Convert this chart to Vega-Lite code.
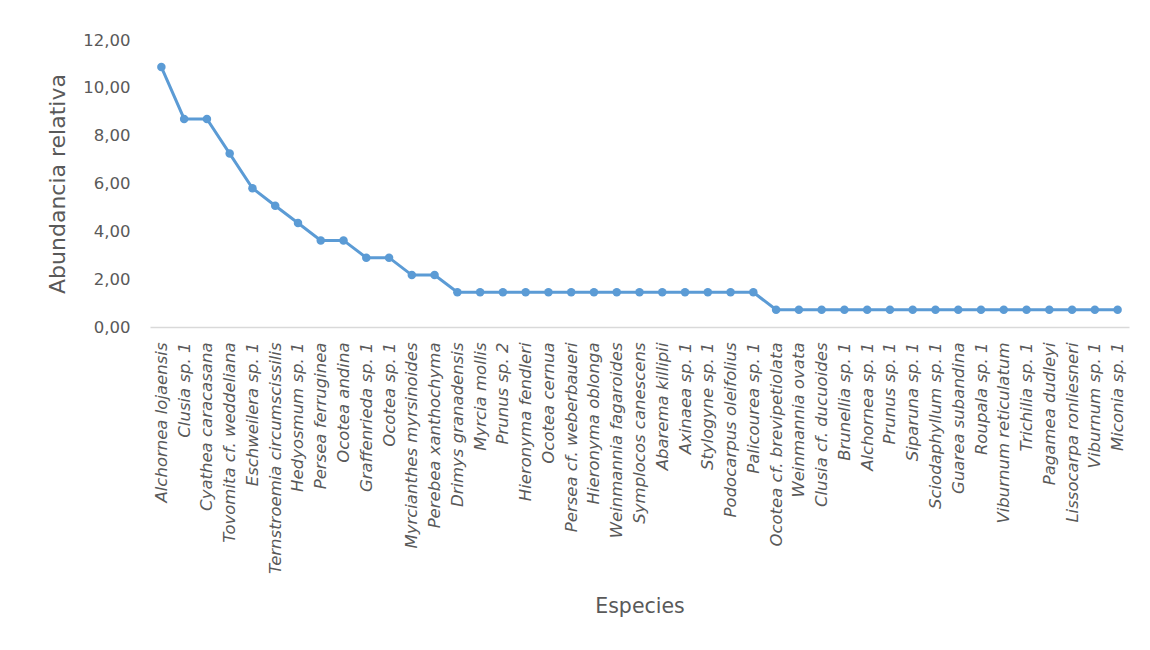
{
  "$schema": "https://vega.github.io/schema/vega-lite/v6.json",
  "autosize": {"type": "none"},
  "padding": {"left": 150, "top": 40, "right": 21, "bottom": 323},
  "width": 979,
  "height": 287,
  "background": "white",
  "data": {"values": [
    {"especie": "Alchornea lojaensis", "abundancia": 10.87},
    {"especie": "Clusia sp. 1", "abundancia": 8.70},
    {"especie": "Cyathea caracasana", "abundancia": 8.70},
    {"especie": "Tovomita cf. weddeliana", "abundancia": 7.25},
    {"especie": "Eschweilera sp. 1", "abundancia": 5.80},
    {"especie": "Ternstroemia circumscissilis", "abundancia": 5.07},
    {"especie": "Hedyosmum sp. 1", "abundancia": 4.35},
    {"especie": "Persea ferruginea", "abundancia": 3.62},
    {"especie": "Ocotea andina", "abundancia": 3.62},
    {"especie": "Graffenrieda sp. 1", "abundancia": 2.90},
    {"especie": "Ocotea sp. 1", "abundancia": 2.90},
    {"especie": "Myrcianthes myrsinoides", "abundancia": 2.17},
    {"especie": "Perebea xanthochyma", "abundancia": 2.17},
    {"especie": "Drimys granadensis", "abundancia": 1.45},
    {"especie": "Myrcia mollis", "abundancia": 1.45},
    {"especie": "Prunus sp. 2", "abundancia": 1.45},
    {"especie": "Hieronyma fendleri", "abundancia": 1.45},
    {"especie": "Ocotea cernua", "abundancia": 1.45},
    {"especie": "Persea cf. weberbaueri", "abundancia": 1.45},
    {"especie": "Hieronyma oblonga", "abundancia": 1.45},
    {"especie": "Weinmannia fagaroides", "abundancia": 1.45},
    {"especie": "Symplocos canescens", "abundancia": 1.45},
    {"especie": "Abarema killipii", "abundancia": 1.45},
    {"especie": "Axinaea sp. 1", "abundancia": 1.45},
    {"especie": "Stylogyne sp. 1", "abundancia": 1.45},
    {"especie": "Podocarpus oleifolius", "abundancia": 1.45},
    {"especie": "Palicourea sp. 1", "abundancia": 1.45},
    {"especie": "Ocotea cf. brevipetiolata", "abundancia": 0.72},
    {"especie": "Weinmannia ovata", "abundancia": 0.72},
    {"especie": "Clusia cf. ducuoides", "abundancia": 0.72},
    {"especie": "Brunellia sp. 1", "abundancia": 0.72},
    {"especie": "Alchornea sp. 1", "abundancia": 0.72},
    {"especie": "Prunus sp. 1", "abundancia": 0.72},
    {"especie": "Siparuna sp. 1", "abundancia": 0.72},
    {"especie": "Sciodaphyllum sp. 1", "abundancia": 0.72},
    {"especie": "Guarea subandina", "abundancia": 0.72},
    {"especie": "Roupala sp. 1", "abundancia": 0.72},
    {"especie": "Viburnum reticulatum", "abundancia": 0.72},
    {"especie": "Trichilia sp. 1", "abundancia": 0.72},
    {"especie": "Pagamea dudleyi", "abundancia": 0.72},
    {"especie": "Lissocarpa ronliesneri", "abundancia": 0.72},
    {"especie": "Viburnum sp. 1", "abundancia": 0.72},
    {"especie": "Miconia sp. 1", "abundancia": 0.72}
  ]},
  "mark": {"type": "line", "color": "#5B9BD5", "strokeWidth": 3, "point": {"filled": true, "color": "#5B9BD5", "size": 72, "opacity": 1}},
  "encoding": {
    "x": {
      "field": "especie", "type": "nominal", "sort": null,
      "scale": {"paddingInner": 0, "paddingOuter": 0.5},
      "axis": {
        "title": "Especies",
        "titleFont": "DejaVu Sans", "titleFontSize": 20.5, "titleFontWeight": "normal", "titleColor": "#595959",
        "titleY": 279, "titleBaseline": "middle",
        "labelFont": "DejaVu Sans", "labelFontStyle": "italic", "labelFontSize": 16.5, "labelColor": "#595959",
        "labelAngle": -90, "labelPadding": 15, "labelOverlap": false, "labelLimit": 0,
        "ticks": false, "domainColor": "#D9D9D9", "domainWidth": 1.5, "grid": false
      }
    },
    "y": {
      "field": "abundancia", "type": "quantitative",
      "scale": {"domain": [0, 12]},
      "axis": {
        "title": "Abundancia relativa",
        "values": [0, 2, 4, 6, 8, 10, 12],
        "labelExpr": "replace(format(datum.value, '.2f'), '.', ',')",
        "titleFont": "DejaVu Sans", "titleFontSize": 22, "titleFontWeight": "normal", "titleColor": "#595959",
        "titlePadding": 13,
        "labelFont": "DejaVu Sans", "labelFontSize": 16.5, "labelColor": "#595959", "labelPadding": 20,
        "ticks": false, "domain": false, "grid": false
      }
    }
  },
  "config": {"view": {"stroke": null}}
}
